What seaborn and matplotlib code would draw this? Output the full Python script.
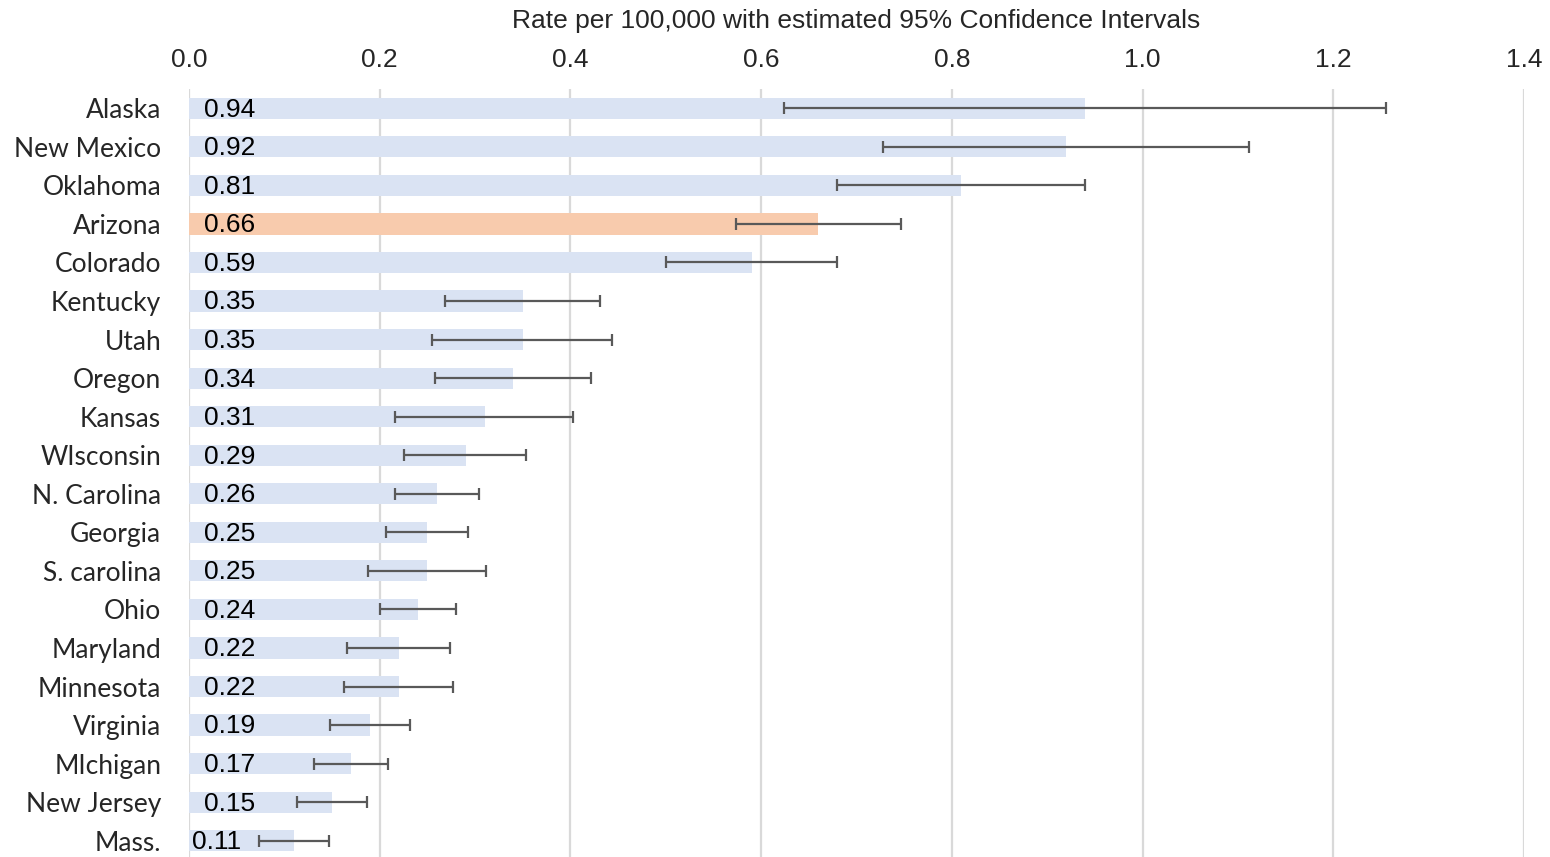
import matplotlib
matplotlib.use("Agg")
import matplotlib.pyplot as plt
import seaborn as sns
import pandas as pd
import numpy as np

states = ["Alaska", "New Mexico", "Oklahoma", "Arizona", "Colorado", "Kentucky", "Utah",
          "Oregon", "Kansas", "WIsconsin", "N. Carolina", "Georgia", "S. carolina", "Ohio",
          "Maryland", "Minnesota", "Virginia", "MIchigan", "New Jersey", "Mass."]
rates = [0.94, 0.92, 0.81, 0.66, 0.59, 0.35, 0.35, 0.34, 0.31, 0.29, 0.26, 0.25, 0.25,
         0.24, 0.22, 0.22, 0.19, 0.17, 0.15, 0.11]
ci_low = [0.624, 0.728, 0.680, 0.574, 0.500, 0.268, 0.255, 0.258, 0.216, 0.225, 0.216,
          0.207, 0.188, 0.200, 0.166, 0.163, 0.148, 0.131, 0.113, 0.073]
ci_high = [1.255, 1.112, 0.940, 0.747, 0.680, 0.431, 0.444, 0.422, 0.403, 0.353, 0.304,
           0.293, 0.311, 0.280, 0.274, 0.277, 0.232, 0.209, 0.187, 0.147]
highlight = "Arizona"
x_ticks = [0.0, 0.2, 0.4, 0.6, 0.8, 1.0, 1.2, 1.4]
title = "Rate per 100,000 with estimated 95% Confidence Intervals"

df = pd.DataFrame({"state": states, "rate": rates, "lo": ci_low, "hi": ci_high})
df["group"] = np.where(df["state"] == highlight, "hl", "base")

sns.set_theme(style="white")
plt.rcParams["font.family"] = ["Liberation Sans", "DejaVu Sans"]

fig = plt.figure(figsize=(15.5, 8.57), dpi=100)
ax = fig.add_axes([189 / 1550, -3 / 857, (1524 - 189) / 1550, (860 - 89) / 857])

sns.barplot(data=df, y="state", x="rate", hue="group", order=states,
            palette={"base": "#dae3f3", "hl": "#f8cbad"}, dodge=False, saturation=1,
            width=0.55, legend=False, ax=ax, zorder=2, linewidth=0)

ypos = np.arange(len(states))
ax.errorbar(df["rate"], ypos, xerr=[df["rate"] - df["lo"], df["hi"] - df["rate"]],
            fmt="none", ecolor="#595959", elinewidth=1.6, capsize=4.5, capthick=1.6,
            zorder=3)

for i, v in enumerate(rates):
    off = 11 if v >= 0.12 else 2
    ax.annotate(f"{v:.2f}", xy=(0, i), xytext=(off, -1), textcoords="offset points",
                ha="left", va="center", fontsize=19, color="black", zorder=4)

ax.set_xlim(0, 1.4)
ax.set_ylim(len(states) - 0.5, -0.5)
ax.set_xticks(x_ticks)
ax.set_xticklabels([f"{t:.1f}" for t in x_ticks])
ax.xaxis.tick_top()
ax.tick_params(axis="x", length=0, pad=12, labelsize=19)
ax.tick_params(axis="y", length=0, pad=20)
for lab in ax.get_yticklabels():
    lab.set_fontfamily(["Lato", "DejaVu Sans"])
    lab.set_fontsize(19)
ax.set_xlabel("")
ax.set_ylabel("")
ax.grid(axis="x", color="#d9d9d9", linewidth=1.6, zorder=0)
ax.set_axisbelow(True)
for s in ax.spines.values():
    s.set_visible(False)

fig.text((189 + 1524) / 2 / 1550, 1 - 21 / 857, title, ha="center", va="center",
         fontsize=19)

fig.savefig("out.png", dpi=100)
